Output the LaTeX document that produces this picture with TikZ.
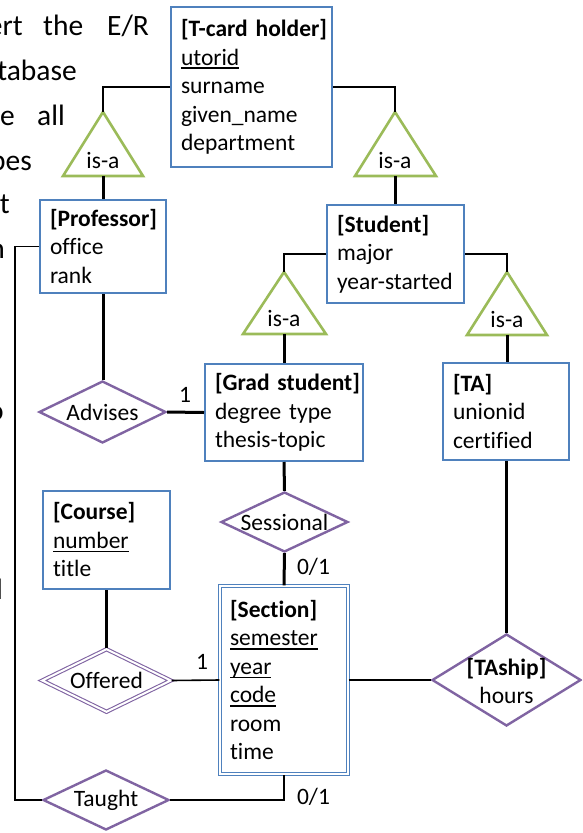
\documentclass[tikz,border=0pt]{standalone}
\usepackage{fontspec}
\setmainfont{Carlito}[Ligatures={NoCommon}]
\usetikzlibrary{shapes.geometric}
\definecolor{entblue}{RGB}{79,129,189}
\definecolor{isagreen}{RGB}{155,187,89}
\definecolor{relpurple}{RGB}{128,100,162}
\newsavebox\ulbox
\newcommand\ulin[1]{\leavevmode\sbox\ulbox{#1}\rlap{\rule[-3.8pt]{\wd\ulbox}{1.5pt}}\usebox\ulbox}
\newcommand\ttl[1]{\mbox{\textbf{#1}}}
\begin{document}
\begin{tikzpicture}[x=1pt,y=-1pt,
  txt/.style={font=\fontsize{23.5}{28.5}\selectfont, inner sep=0pt},
  bgtxt/.style={font=\fontsize{29.5}{35}\selectfont, inner sep=0pt},
  entity/.style={txt, draw=entblue, line width=2pt, fill=white, rectangle, align=left, inner xsep=10pt, inner ysep=0pt},
  weakentity/.style={entity, double=white, double distance=2pt, line width=1.1pt},
  rel/.style={diamond, draw=relpurple, line width=2.4pt, fill=white, inner sep=0pt},
  weakrel/.style={rel, double=white, double distance=2pt, line width=1.1pt},
  isatri/.style={draw=isagreen, line width=2.6pt, line join=miter, fill=white},
  thinline/.style={draw=black, line width=1.6pt},
  thickline/.style={draw=black, line width=3pt},
  lbl/.style={txt}
]
\path[use as bounding box] (0,0) rectangle (582,833);
\clip (0,0) rectangle (582,833);

% background text fragments
\node[bgtxt, anchor=base east] (bg1a) at (23,35) {ert};
\node[bgtxt, anchor=base west] (bg1b) at (43,35) {the};
\node[bgtxt, anchor=base west] (bg1c) at (107,35) {E/R};
\node[bgtxt, anchor=base east] (bg2) at (77,80) {database};
\node[bgtxt, anchor=base east] (bg3a) at (15,125) {e};
\node[bgtxt, anchor=base west] (bg3b) at (37,125) {all};
\node[bgtxt, anchor=base east] (bg4) at (32,170) {types};
\node[bgtxt, anchor=base east] (bg5) at (10,213) {t};
\node[bgtxt, anchor=base east] (bg6) at (5,258) {n};
\node[bgtxt, anchor=base east] (bg7) at (4,420) {o};
\node[bgtxt, anchor=base east] (bg8) at (3,599) {d};

% entities
\node[entity, minimum width=161pt, minimum height=160pt, text width=141pt] (tcard) at (251.5,87)
  {\ttl{[T-card holder]}\\\ulin{utorid}\\surname\\given\_name\\department};
\node[entity, minimum width=126pt, minimum height=93pt, text width=106pt] (prof) at (103,246.5)
  {\ttl{[Professor]}\\office\\rank};
\node[entity, minimum width=137pt, minimum height=98pt, text width=117pt] (student) at (395.5,254)
  {\ttl{[Student]}\\major\\\mbox{year-started}};
\node[entity, minimum width=158pt, minimum height=97pt, text width=138pt] (grad) at (284,412.5)
  {\ttl{[Grad student]}\\\mbox{degree type}\\\mbox{thesis-topic}};
\node[entity, minimum width=126pt, minimum height=97pt, text width=106pt] (ta) at (506,411.5)
  {\ttl{[TA]}\\unionid\\certified};
\node[entity, minimum width=127pt, minimum height=98pt, text width=107pt] (course) at (106.5,540)
  {\ttl{[Course]}\\\ulin{number}\\title};
\node[weakentity, minimum width=128pt, minimum height=188pt, text width=108pt] (section) at (284,680)
  {\ttl{[Section]}\\\ulin{semester}\\\ulin{year}\\\ulin{code}\\room\\time};

% relationships
\node[rel, minimum width=127pt, minimum height=62pt] (advises) at (102.5,412) {};
\node[txt] (advisestxt) at (advises) {Advises};
\node[rel, minimum width=127pt, minimum height=60pt] (sessional) at (284.5,522) {};
\node[txt] (sessionaltxt) at (sessional) {Sessional};
\node[weakrel, minimum width=129pt, minimum height=63pt] (offered) at (106.5,680.5) {};
\node[txt] (offeredtxt) at (offered) {Offered};
\node[rel, minimum width=126pt, minimum height=60pt] (taught) at (106,800) {};
\node[txt] (taughttxt) at (taught) {Taught};
\node[rel, minimum width=149pt, minimum height=92pt] (taship) at (506.5,680) {};
\node[txt, align=center] (tashiptxt) at (506.5,681) {\textbf{[TAship]}\\hours};

% is-a triangles
\coordinate (isa1top) at (103,112); \coordinate (isa1bot) at (103,176);
\coordinate (isa2top) at (395,112); \coordinate (isa2bot) at (395,176);
\coordinate (isa3top) at (284,272); \coordinate (isa3bot) at (284,334);
\coordinate (isa4top) at (507,272); \coordinate (isa4bot) at (507,335);
\path[isatri] (63,176) -- (isa1top) -- (143,176) -- cycle;
\path[isatri] (355,176) -- (isa2top) -- (436,176) -- cycle;
\path[isatri] (243,334) -- (isa3top) -- (326,334) -- cycle;
\path[isatri] (467,335) -- (isa4top) -- (547,335) -- cycle;
\node[txt] (isa1) at (103,160) {is-a};
\node[txt] (isa2) at (395,160) {is-a};
\node[txt] (isa3) at (284,318) {is-a};
\node[txt] (isa4) at (507,319) {is-a};

% connectors
\coordinate (rail) at (15,0);
\draw[thinline] (tcard.west) -| (isa1top);
\draw[thinline] (tcard.east) -| (isa2top);
\draw[thickline] (isa1bot) -- (prof.north);
\draw[thickline] (isa2bot) -- (isa2bot |- student.north);
\draw[thinline] (student.west) -| (isa3top);
\draw[thinline] (student.east) -| (isa4top);
\draw[thickline] (isa3bot) -- (isa3bot |- grad.north);
\draw[thickline] (isa4bot) -- (isa4bot |- ta.north);
\draw[thickline] (prof.south) -- (prof.south |- advises.north);
\draw[thickline] (advises.east) -- (grad.west);
\draw[thickline] (grad.south) -- (sessional.north);
\draw[thickline] (sessional.south) -- (section.north);
\draw[thickline] (course.south) -- (offered.north);
\draw[thinline] (offered.east) -- (section.west);
\draw[thinline] (section.east) -- (taship.west);
\draw[thickline] (ta.south) -- (ta.south |- taship.north);
\draw[thinline] (prof.west) -- (prof.west -| rail) |- (taught.west);
\draw[thinline] (taught.east) -| (section.south);

% cardinality labels
\node[lbl] (card1) at (185,395) {1};
\node[lbl] (card2) at (202,662) {1};
\node[lbl] (card3) at (313.5,567) {0/1};
\node[lbl] (card4) at (313.5,797) {0/1};
\end{tikzpicture}
\end{document}
